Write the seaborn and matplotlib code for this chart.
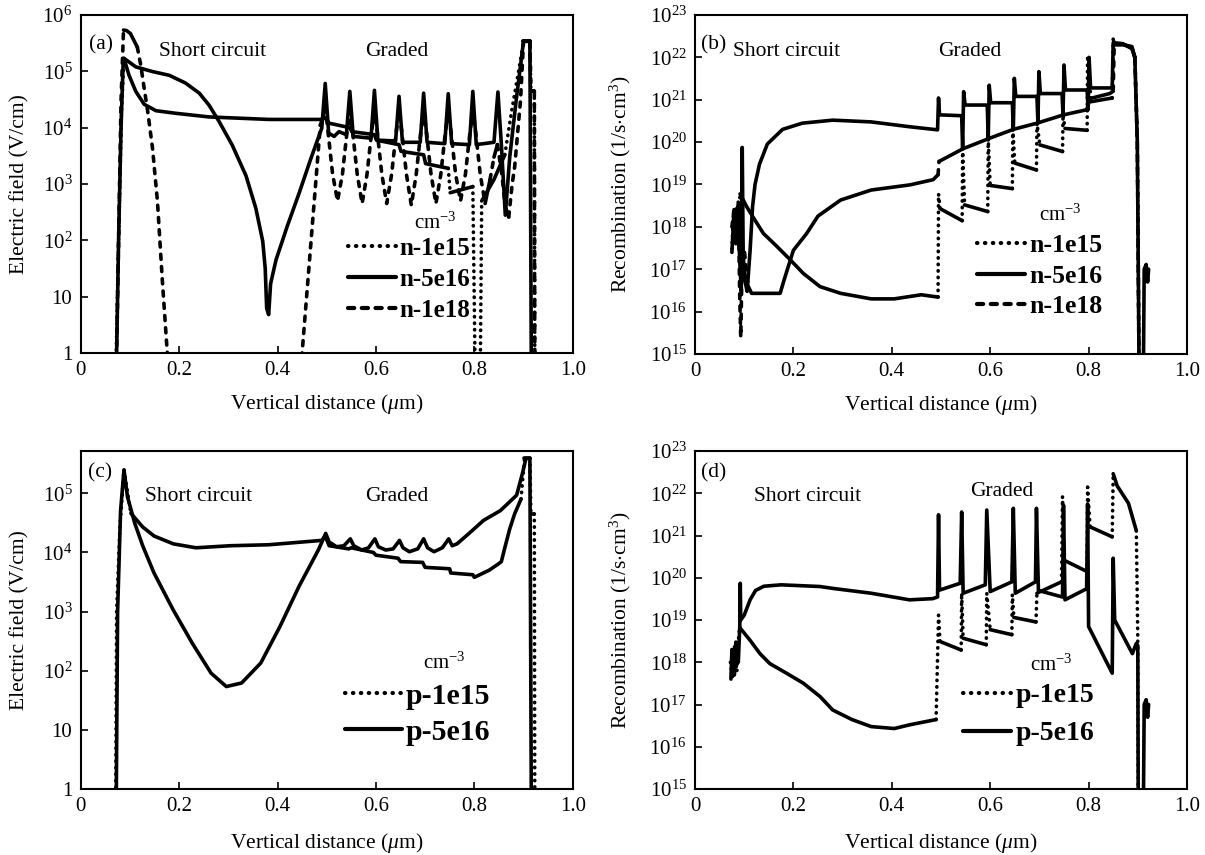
import numpy as np
import pandas as pd
import matplotlib
matplotlib.use("Agg")
import matplotlib.pyplot as plt
import seaborn as sns
from matplotlib.lines import Line2D
from matplotlib.ticker import FixedLocator, FuncFormatter, NullLocator

# ---- data (x in um, y in V/cm or 1/s.cm3) ----

# (a) electric field, n-type absorber
A_X_N1E15 = [0.071, 0.077, 0.083, 0.088, 0.098, 0.112, 0.129, 0.153, 0.193, 0.261,
             0.383, 0.490, 0.497, 0.505, 0.547, 0.551, 0.597, 0.601, 0.647, 0.651,
             0.697, 0.701, 0.747, 0.751, 0.797, 0.802, 0.812, 0.815, 0.840, 0.862,
             0.876, 0.890, 0.900, 0.913, 0.915, 0.922, 0.923]
A_Y_N1E15 = [0.3, 1e2, 2e4, 1.7e5, 8.6e4, 4.4e4, 2.6e4, 2.0e4, 1.8e4, 1.55e4,
             1.4e4, 1.4e4, 1.5e4, 1.2e4, 1.0e4, 8.5e3, 7.5e3, 6.0e3, 5.0e3, 3.8e3,
             3.3e3, 2.3e3, 1.9e3, 7e2, 9e2, 0.3, 0.3, 5e2, 1.2e3, 3.3e3,
             2e4, 1e5, 3.4e5, 3.4e5, 4.4e4, 4.4e4, 0.3]

A_X_N5E16 = [0.072, 0.077, 0.082, 0.086, 0.088, 0.112, 0.146, 0.180, 0.213, 0.241,
             0.261, 0.281, 0.308, 0.336, 0.356, 0.370, 0.375, 0.378, 0.382, 0.386,
             0.397, 0.420, 0.444, 0.467, 0.490, 0.497, 0.504, 0.515, 0.525, 0.540,
             0.547, 0.554, 0.590, 0.597, 0.604, 0.640, 0.647, 0.654, 0.690, 0.697,
             0.704, 0.740, 0.747, 0.754, 0.790, 0.797, 0.804, 0.840, 0.848, 0.855,
             0.863, 0.872, 0.885, 0.895, 0.900, 0.913, 0.916]
A_Y_N5E16 = [0.3, 1e2, 1e4, 1.2e5, 1.7e5, 1.2e5, 9.9e4, 8.5e4, 6.2e4, 4.1e4,
             2.5e4, 1.3e4, 4.9e3, 1.4e3, 3.7e2, 96, 32, 6.2, 4.8, 17,
             45, 1.8e2, 6.9e2, 2.7e3, 9.8e3, 6.1e4, 8e3, 7e3, 8.5e3, 7.5e3,
             4.4e4, 7e3, 6.5e3, 4.6e4, 6e3, 5.8e3, 3.6e4, 5.5e3, 5.5e3, 4.1e4,
             5.5e3, 5.2e3, 4e4, 5.2e3, 5e3, 4.4e4, 5e3, 5.5e3, 4.3e4, 5e3,
             2.8e2, 3e3, 3e4, 1.5e5, 3.4e5, 3.4e5, 0.3]

A_X_N1E18 = [0.072, 0.077, 0.082, 0.087, 0.093, 0.101, 0.115, 0.122, 0.129, 0.136,
             0.146, 0.156, 0.166, 0.176, 0.180, 0.446, 0.450, 0.487, 0.493, 0.497,
             0.503, 0.512, 0.522, 0.532, 0.541, 0.547, 0.553, 0.562, 0.572, 0.582,
             0.591, 0.597, 0.603, 0.612, 0.622, 0.632, 0.641, 0.647, 0.653, 0.662,
             0.672, 0.682, 0.691, 0.697, 0.703, 0.712, 0.722, 0.732, 0.741, 0.747,
             0.753, 0.762, 0.772, 0.782, 0.791, 0.797, 0.803, 0.812, 0.822, 0.832,
             0.840, 0.847, 0.856, 0.863, 0.870, 0.877, 0.882, 0.894, 0.900, 0.913,
             0.915, 0.922, 0.923]
A_Y_N1E18 = [0.3, 1e2, 3e4, 5.4e5, 5.3e5, 4.7e5, 2.7e5, 1.3e5, 5e4, 2e4,
             4.3e3, 4.9e2, 19, 1, 0.3, 0.3, 1, 1.1e4, 1.6e4, 2.5e4,
             8e3, 1.5e3, 5e2, 1.5e3, 8e3, 2e4, 8e3, 1.5e3, 4.5e2, 1.5e3,
             8e3, 2e4, 8e3, 1.5e3, 4.5e2, 1.5e3, 8e3, 2e4, 8e3, 1.5e3,
             4.2e2, 1.5e3, 8e3, 2e4, 8e3, 1.5e3, 4.5e2, 1.5e3, 8e3, 2e4,
             8e3, 1.5e3, 5e2, 1.5e3, 8e3, 2e4, 8e3, 1.5e3, 4.5e2, 1.2e3,
             3e3, 5e3, 1.5e3, 4e2, 2.6e2, 1e3, 2e3, 3.1e4, 3.4e5, 3.4e5,
             4.4e4, 4.4e4, 0.3]

# (b) recombination, n-type absorber
B_X_N1E15 = [0.075, 0.078, 0.081, 0.084, 0.088, 0.0915, 0.105, 0.118, 0.139, 0.166,
             0.193, 0.220, 0.254, 0.296, 0.358, 0.405, 0.460, 0.494, 0.495, 0.498,
             0.543, 0.544, 0.548, 0.595, 0.596, 0.600, 0.645, 0.646, 0.650, 0.694,
             0.695, 0.701, 0.747, 0.748, 0.752, 0.797, 0.798, 0.805, 0.848, 0.850,
             0.852, 0.870, 0.888, 0.894, 0.899, 0.903]
B_Y_N1E15 = [3e17, 2e18, 5e17, 3e18, 1e18, 6e18, 3e18, 1.7e18, 7e17, 3.5e17,
             1.7e17, 8e16, 3.9e16, 2.7e16, 2e16, 2e16, 2.5e16, 2.2e16, 6e18, 2.7e18,
             1.4e18, 7e19, 3.3e18, 2.3e18, 1.2e20, 9.5e18, 8e18, 2e20, 3.2e19, 2.2e19,
             2.8e20, 8.6e19, 6e19, 4.5e20, 2.1e20, 1.9e20, 1.1e22, 9e20, 1.1e21, 3e22,
             2e22, 2e22, 1.8e22, 1e22, 1e20, 1e14]

B_X_N5E16 = [0.075, 0.079, 0.083, 0.087, 0.091, 0.094, 0.096, 0.098, 0.102, 0.106,
             0.112, 0.117, 0.122, 0.131, 0.147, 0.178, 0.218, 0.280, 0.358, 0.437,
             0.493, 0.495, 0.497, 0.542, 0.544, 0.546, 0.549, 0.594, 0.596, 0.598,
             0.601, 0.645, 0.647, 0.649, 0.652, 0.695, 0.697, 0.699, 0.702, 0.746,
             0.748, 0.750, 0.753, 0.797, 0.799, 0.801, 0.804, 0.848, 0.850, 0.855,
             0.870, 0.888, 0.894, 0.899, 0.903, 0.911, 0.913, 0.917, 0.920, 0.922]
B_Y_N5E16 = [2.5e17, 2e18, 4e17, 3e18, 1.5e17, 3e16, 7.5e19, 2e17, 5e16, 3e16,
             2.8e17, 3e18, 1e19, 3e19, 9e19, 2e20, 2.8e20, 3.3e20, 3e20, 2.3e20,
             1.95e20, 1.1e21, 4.4e20, 4.2e20, 7e19, 1.55e21, 7.5e20, 7.5e20, 1.2e20, 2.2e21,
             8.5e20, 8.5e20, 2e20, 3.2e21, 1.2e21, 1.2e21, 2.8e20, 4.6e21, 1.4e21, 1.4e21,
             4.4e20, 6.6e21, 1.7e21, 1.7e21, 5.8e20, 1e22, 1.9e21, 1.9e21, 2.2e22, 2.2e22,
             2.1e22, 1.6e22, 1e22, 1e20, 1e14, 1e14, 1e17, 1.3e17, 5e16, 1e17]

B_X_N1E18 = [0.075, 0.080, 0.085, 0.088, 0.091, 0.093, 0.095, 0.100, 0.104, 0.108,
             0.115, 0.173, 0.183, 0.200, 0.227, 0.250, 0.296, 0.358, 0.437, 0.484,
             0.494, 0.496, 0.545, 0.600, 0.647, 0.695, 0.749, 0.796, 0.803, 0.843,
             0.850, 0.852, 0.870, 0.888, 0.894, 0.899, 0.903]
B_Y_N1E18 = [1e18, 3e18, 5e17, 4e18, 2e16, 2.5e15, 5e16, 3e17, 1e17, 4e16,
             2.7e16, 2.7e16, 6.6e16, 2.8e17, 7e17, 1.8e18, 4.3e18, 7.4e18, 9.8e18, 1.3e19,
             1.7e19, 3.5e19, 7e19, 1.25e20, 2e20, 2.8e20, 4.4e20, 5.8e20, 1.07e21, 1.4e21,
             1.6e21, 2e22, 2e22, 1.7e22, 1e22, 1e20, 1e14]

# (c) electric field, p-type absorber
C_X_P1E15 = [0.071, 0.073, 0.080, 0.088, 0.102, 0.126, 0.149, 0.188, 0.234, 0.304,
             0.382, 0.490, 0.497, 0.505, 0.545, 0.550, 0.595, 0.600, 0.645, 0.650,
             0.695, 0.700, 0.750, 0.752, 0.797, 0.800, 0.830, 0.850, 0.855, 0.862,
             0.872, 0.882, 0.895, 0.902, 0.913, 0.915, 0.922, 0.923]
C_Y_P1E15 = [0.3, 1e3, 3e4, 2.5e5, 4.6e4, 2.7e4, 1.9e4, 1.4e4, 1.2e4, 1.3e4,
             1.35e4, 1.6e4, 1.9e4, 1.3e4, 1.15e4, 1.2e4, 1e4, 9e3, 8e3, 7e3,
             6.8e3, 5.6e3, 5.3e3, 4.5e3, 4.2e3, 3.8e3, 5e3, 6.5e3, 7e3, 1.2e4,
             2.5e4, 4.5e4, 8e4, 3.9e5, 3.9e5, 4.5e4, 4.5e4, 0.3]

C_X_P5E16 = [0.072, 0.075, 0.081, 0.088, 0.095, 0.110, 0.126, 0.149, 0.188, 0.227,
             0.265, 0.296, 0.327, 0.366, 0.405, 0.444, 0.483, 0.498, 0.505, 0.520,
             0.535, 0.548, 0.555, 0.571, 0.585, 0.598, 0.605, 0.620, 0.635, 0.648,
             0.655, 0.668, 0.685, 0.697, 0.705, 0.718, 0.735, 0.748, 0.755, 0.765,
             0.792, 0.819, 0.853, 0.886, 0.898, 0.905, 0.913, 0.916]
C_Y_P5E16 = [0.3, 1e3, 5e4, 2.5e5, 8.8e4, 3.1e4, 1.3e4, 4.5e3, 1.07e3, 2.9e2,
             91, 54, 62, 1.35e2, 5.6e2, 2.7e3, 1.1e4, 2.1e4, 1.5e4, 1.25e4,
             1.3e4, 1.7e4, 1.3e4, 1.1e4, 1.2e4, 1.7e4, 1.25e4, 1.1e4, 1.15e4, 1.6e4,
             1.2e4, 1.03e4, 1.15e4, 1.7e4, 1.2e4, 1.03e4, 1.2e4, 1.7e4, 1.3e4, 1.4e4,
             2.2e4, 3.5e4, 5.1e4, 9.3e4, 2.2e5, 3.9e5, 3.9e5, 0.3]

# (d) recombination, p-type absorber
D_X_P1E15 = [0.072, 0.076, 0.080, 0.085, 0.089, 0.091, 0.112, 0.132, 0.152, 0.186,
             0.220, 0.254, 0.280, 0.319, 0.358, 0.405, 0.436, 0.490, 0.495, 0.498,
             0.541, 0.542, 0.545, 0.592, 0.593, 0.600, 0.644, 0.645, 0.648, 0.693,
             0.695, 0.700, 0.745, 0.747, 0.750, 0.797, 0.798, 0.803, 0.848, 0.850,
             0.858, 0.881, 0.897, 0.900, 0.901]
D_Y_P1E15 = [1e18, 4e17, 2.5e18, 6e17, 4.5e18, 6.6e18, 3.3e18, 1.6e18, 9.3e17, 5.5e17,
             3.2e17, 1.55e17, 7.4e16, 4.4e16, 3e16, 2.7e16, 3.3e16, 4.4e16, 1.3e19, 3.1e18,
             1.95e18, 4.3e19, 3.7e18, 2.6e18, 4.3e19, 5.9e18, 4.5e18, 4e19, 1.15e19, 9e18,
             4.3e19, 4.6e19, 8e19, 8.3e21, 2.6e20, 1.4e20, 1.4e22, 1.6e21, 9.3e20, 2.9e22,
             1.5e22, 5.8e21, 1.3e21, 3.4e18, 1e14]

D_X_P5E16 = [0.073, 0.075, 0.080, 0.083, 0.088, 0.091, 0.092, 0.093, 0.100, 0.112,
             0.123, 0.140, 0.175, 0.254, 0.280, 0.358, 0.436, 0.483, 0.493, 0.495,
             0.497, 0.539, 0.542, 0.545, 0.590, 0.593, 0.600, 0.644, 0.647, 0.651,
             0.692, 0.694, 0.698, 0.747, 0.749, 0.752, 0.796, 0.798, 0.800, 0.848,
             0.850, 0.853, 0.889, 0.897, 0.900, 0.901, 0.911, 0.913, 0.917, 0.920,
             0.922]
D_Y_P5E16 = [4e17, 2e18, 5e17, 3e18, 1e18, 7e18, 7.4e19, 1e19, 1.3e19, 3e19,
             5e19, 6.3e19, 6.8e19, 6.2e19, 5.6e19, 4.3e19, 3e19, 3.2e19, 3.5e19, 3.1e21,
             5.1e19, 7.4e19, 3.6e21, 4.3e19, 6.8e19, 4e21, 4.7e19, 8e19, 4.4e21, 4.3e19,
             8e19, 4.4e21, 5e19, 3.5e19, 5.2e21, 3e19, 5.5e19, 5.6e21, 7e18, 5.5e17,
             2.9e20, 1e19, 1.6e18, 2.8e18, 2.5e18, 1e14, 1e14, 1e17, 1.3e17, 5e16,
             1e17]

X_TICKS = [0, 0.2, 0.4, 0.6, 0.8, 1.0]
X_TICK_LABELS = ["0", "0.2", "0.4", "0.6", "0.8", "1.0"]
FIELD_DECADES = [0, 1, 2, 3, 4, 5, 6]
RECOMB_DECADES = [15, 16, 17, 18, 19, 20, 21, 22, 23]

# ---- style ----
sns.set_theme(style="ticks")
plt.rcParams["font.family"] = ["Liberation Serif", "DejaVu Serif"]
plt.rcParams["mathtext.fontset"] = "custom"
plt.rcParams["mathtext.rm"] = "Liberation Serif"
plt.rcParams["mathtext.it"] = "Liberation Serif:italic"
plt.rcParams["mathtext.bf"] = "Liberation Serif:bold"
plt.rcParams["lines.dash_capstyle"] = "round"
plt.rcParams["axes.edgecolor"] = "black"
plt.rcParams["axes.linewidth"] = 1.5
plt.rcParams["text.color"] = "black"
plt.rcParams["axes.labelcolor"] = "black"
plt.rcParams["xtick.color"] = "black"
plt.rcParams["ytick.color"] = "black"

FIG_W, FIG_H = 1205, 855
LW = 2.6
DASHES = {"solid": "", "dot": (0.1, 1.7), "dash": (1.4, 2.0)}


def pow_label(v, pos):
    e = int(round(np.log10(v)))
    if e == 0:
        return "1"
    if e == 1:
        return "10"
    return r"$\mathregular{10^{%d}}$" % e


def to_segments(xs, ys, kind, name, w_px, h_px, ylim):
    """Split a series so near-vertical steps keep the dotted/dashed look,
    while densely sampled stretches render as continuous lines."""
    xs = np.asarray(xs, float)
    ys = np.asarray(ys, float)
    dec = np.log10(ylim[1]) - np.log10(ylim[0])
    px = xs * w_px
    py = np.log10(ys) / dec * h_px
    rows = []
    if kind == "solid":
        for x, y in zip(xs, ys):
            rows.append((x, y, name + "-0", "solid"))
        return rows
    seg_id, cur_kind = 0, None
    for i in range(len(xs) - 1):
        dx = abs(px[i + 1] - px[i])
        dy = abs(py[i + 1] - py[i])
        k = kind if (dy > 5 * dx and dy > 6) else "solid"
        if k != cur_kind:
            seg_id += 1
            cur_kind = k
            rows.append((xs[i], ys[i], f"{name}-{seg_id}", k))
        rows.append((xs[i + 1], ys[i + 1], f"{name}-{seg_id}", k))
    return rows


def handle(kind):
    if kind == "dot":
        return Line2D([], [], color="black", lw=3, linestyle=(0, (0.1, 1.8)),
                      dash_capstyle="round")
    if kind == "dash":
        return Line2D([], [], color="black", lw=3, linestyle=(0, (1.5, 1.8)),
                      dash_capstyle="round")
    return Line2D([], [], color="black", lw=3)


panels = [
    dict(tag="(a)", rect=[80.7, 15, 492, 338], ylim=(1, 1e6), decades=FIELD_DECADES,
         ylabel="Electric field (V/cm)",
         series=[(A_X_N1E15, A_Y_N1E15, "dot", "n-1e15"),
                 (A_X_N5E16, A_Y_N5E16, "solid", "n-5e16"),
                 (A_X_N1E18, A_Y_N1E18, "dash", "n-1e18")],
         short=(0.267, 0.891), graded=(0.642, 0.891), tagpos=(0.017, 0.911),
         unit=(0.72, 0.385), leg=(0.543, 0.343), leg_fs=18, leg_hl=1.92, leg_sp=0.32,
         ylab_x=-0.105, xlab_y=-0.115),
    dict(tag="(b)", rect=[695, 15, 492, 339], ylim=(1e15, 1e23), decades=RECOMB_DECADES,
         ylabel="Recombination (1/s$\\cdot$cm$^{3}$)",
         series=[(B_X_N1E15, B_Y_N1E15, "dot", "n-1e15"),
                 (B_X_N5E16, B_Y_N5E16, "solid", "n-5e16"),
                 (B_X_N1E18, B_Y_N1E18, "dash", "n-1e18")],
         short=(0.187, 0.892), graded=(0.559, 0.892), tagpos=(0.013, 0.911),
         unit=(0.742, 0.41), leg=(0.573, 0.354), leg_fs=18.5, leg_hl=1.87, leg_sp=0.3,
         ylab_x=-0.125, xlab_y=-0.115),
    dict(tag="(c)", rect=[80.7, 451, 492, 338], ylim=(1, 5.2e5), decades=FIELD_DECADES[:6],
         ylabel="Electric field (V/cm)",
         series=[(C_X_P1E15, C_Y_P1E15, "dot", "p-1e15"),
                 (C_X_P5E16, C_Y_P5E16, "solid", "p-5e16")],
         short=(0.24, 0.865), graded=(0.642, 0.865), tagpos=(0.015, 0.934),
         unit=(0.74, 0.372), leg=(0.537, 0.314), leg_fs=21.5, leg_hl=1.9, leg_sp=0.3,
         ylab_x=-0.105, xlab_y=-0.124),
    dict(tag="(d)", rect=[695, 451, 492, 338], ylim=(1e15, 1e23), decades=RECOMB_DECADES,
         ylabel="Recombination (1/s$\\cdot$cm$^{3}$)",
         series=[(D_X_P1E15, D_Y_P1E15, "dot", "p-1e15"),
                 (D_X_P5E16, D_Y_P5E16, "solid", "p-5e16")],
         short=(0.228, 0.865), graded=(0.623, 0.88), tagpos=(0.013, 0.934),
         unit=(0.725, 0.367), leg=(0.545, 0.314), leg_fs=20, leg_hl=1.73, leg_sp=0.45,
         ylab_x=-0.125, xlab_y=-0.124),
]

fig = plt.figure(figsize=(FIG_W / 100, FIG_H / 100), dpi=100)

for p in panels:
    left, top, w, h = p["rect"]
    ax = fig.add_axes([left / FIG_W, 1 - (top + h) / FIG_H, w / FIG_W, h / FIG_H])
    ax.set_yscale("log")
    ax.set_xlim(0, 1)
    ax.set_ylim(*p["ylim"])

    rows = []
    for xs, ys, kind, name in p["series"]:
        rows += to_segments(xs, ys, kind, name, w, h, p["ylim"])
    df = pd.DataFrame(rows, columns=["x", "y", "seg", "kind"])
    sns.lineplot(data=df, x="x", y="y", units="seg", style="kind", dashes=DASHES,
                 estimator=None, sort=False, color="black", linewidth=LW,
                 legend=False, ax=ax)

    ax.set_xticks(X_TICKS, labels=X_TICK_LABELS)
    ax.yaxis.set_major_locator(FixedLocator([10.0 ** d for d in p["decades"]]))
    ax.yaxis.set_major_formatter(FuncFormatter(pow_label))
    ax.yaxis.set_minor_locator(NullLocator())
    ax.xaxis.set_minor_locator(NullLocator())
    ax.tick_params(direction="in", length=5, width=1.2, labelsize=15, pad=6,
                   colors="black")
    for s in ax.spines.values():
        s.set_color("black")
        s.set_linewidth(1.5)
    ax.grid(False)

    ax.set_xlabel("Vertical distance ($\\mu$m)", fontsize=15.5, color="black")
    ax.set_ylabel(p["ylabel"], fontsize=15.5, color="black")
    ax.yaxis.set_label_coords(p["ylab_x"], 0.5)
    ax.xaxis.set_label_coords(0.5, p["xlab_y"])

    ax.text(*p["tagpos"], p["tag"], transform=ax.transAxes, fontsize=15.5,
            ha="left", va="center", color="black")
    ax.text(*p["short"], "Short circuit", transform=ax.transAxes, fontsize=15.5,
            ha="center", va="center", color="black")
    ax.text(*p["graded"], "Graded", transform=ax.transAxes, fontsize=15.5,
            ha="center", va="center", color="black")
    ax.text(*p["unit"], "cm$^{-3}$", transform=ax.transAxes, fontsize=15,
            ha="center", va="center", color="black")

    handles = [handle(kind) for _, _, kind, _ in p["series"]]
    labels = [name for _, _, _, name in p["series"]]
    leg = ax.legend(handles, labels, loc="upper left", bbox_to_anchor=p["leg"],
                    frameon=False, prop={"weight": "bold", "size": p["leg_fs"]},
                    handlelength=p["leg_hl"], handletextpad=0.15,
                    labelspacing=p["leg_sp"], borderpad=0, borderaxespad=0)
    for t in leg.get_texts():
        t.set_color("black")

fig.savefig("out.png", dpi=100)
